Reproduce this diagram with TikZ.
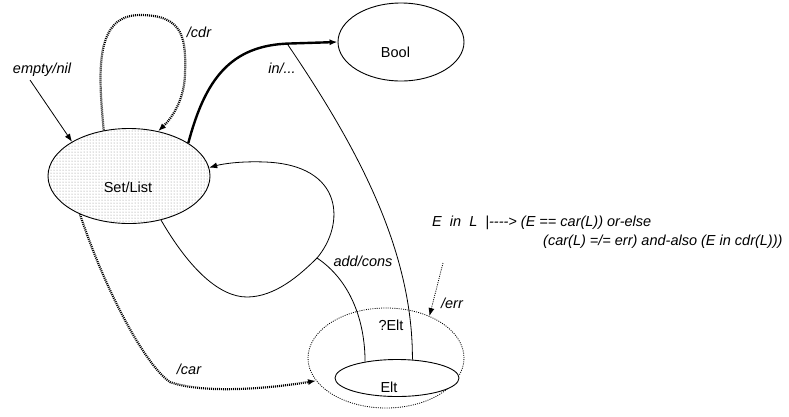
\documentclass[tikz,border=0pt]{standalone}
\usepackage{fontspec}
\setmainfont{Liberation Sans}
\usetikzlibrary{shapes.geometric,arrows.meta,patterns}
\begin{document}
\begin{tikzpicture}[x=1pt,y=-1pt,
  state/.style={ellipse,draw,line width=0.9pt,inner sep=0pt},
  lab/.style={font=\fontsize{14.5}{17}\selectfont\itshape,inner sep=0pt},
  txt/.style={font=\fontsize{14.5}{17}\selectfont,inner sep=0pt},
  arr/.style={-{Latex[length=8pt,width=6pt]}},
  conn/.style={line width=0.8pt},
  heavy/.style={line width=2.4pt},
  dotheavy/.style={line width=2.2pt,dash pattern=on 1pt off 1pt},
  dotthin/.style={line width=0.8pt,dash pattern=on 1pt off 1.2pt}
]
\useasboundingbox (0,0) rectangle (789,416);

% states
\node[state,pattern=dots,pattern color=gray,minimum width=162pt,minimum height=95pt] (set) at (129,176) {};
\node[txt] (settext) at (128,187) {Set/List};
\node[state,minimum width=126pt,minimum height=78pt] (bool) at (401,42) {};
\node[txt] (booltext) at (395.5,52) {Bool};
\node[ellipse,draw,dotthin,inner sep=0pt,minimum width=156pt,minimum height=100pt] (outer) at (386,358) {};
\node[txt] (qelt) at (391,325) {?Elt};
\node[state,fill=white,minimum width=124pt,minimum height=37pt] (elt) at (397,378) {};
\node[txt] (elttext) at (389,387) {Elt};

% coordinates
\coordinate (nilstart) at (30,80);
\coordinate (branch) at (287,43.5);
\coordinate (split) at (317,258);
\coordinate (errstart) at (443,263);

% empty/nil
\draw[conn,arr] (nilstart) -- (set.149);
\node[lab] (nillab) at (42,70) {empty/nil};

% /cdr loop
\draw[dotheavy,arr] (set.119.5) .. controls (98,70) and (95,15) .. (140,15)
  .. controls (185,15) and (186,40) .. (185,75)
  .. controls (184,100) and (172,118) .. (set.57);
\node[lab] (cdrlab) at (199,32) {/cdr};

% in/...
\draw[heavy,arr] (set.29) .. controls (205,80) and (230,45) .. (290,43.5) -- (bool.west);
\node[lab] (inlab) at (282,68) {in/...};
\draw[conn] (branch) .. controls (356,145) and (413,249) .. (elt.50);

% add/cons
\draw[conn] (set.-54) .. controls (190,270) and (220,297) .. (247,297)
  .. controls (275,297) and (300,275) .. (split);
\draw[conn,arr] (split) .. controls (345,225) and (345,165) .. (265,162)
  .. controls (240,161) and (222,164) .. (set.6);
\draw[conn] (split) .. controls (350,280) and (365,320) .. (elt.153);
\node[lab] (addlab) at (363,261) {add/cons};

% /car
\draw[dotheavy,arr] (set.218.8) .. controls (105,290) and (145,365) .. (170,382)
  .. controls (200,393) and (260,390) .. (outer.198);
\node[lab] (carlab) at (189,369) {/car};

% /err
\draw[dotthin,arr] (errstart) -- (outer.44);
\node[lab] (errlab) at (452,303) {/err};

% formula
\node[lab,anchor=west] (f1) at (432,223) {E\ \ in\ \ L\ \ |-\kern0pt-\kern0pt-\kern0pt-> (E == car(L)) or-else};
\node[lab,anchor=west] (f2) at (543,242) {(car(L) =/= err) and-also (E in cdr(L)))};
\end{tikzpicture}
\end{document}
